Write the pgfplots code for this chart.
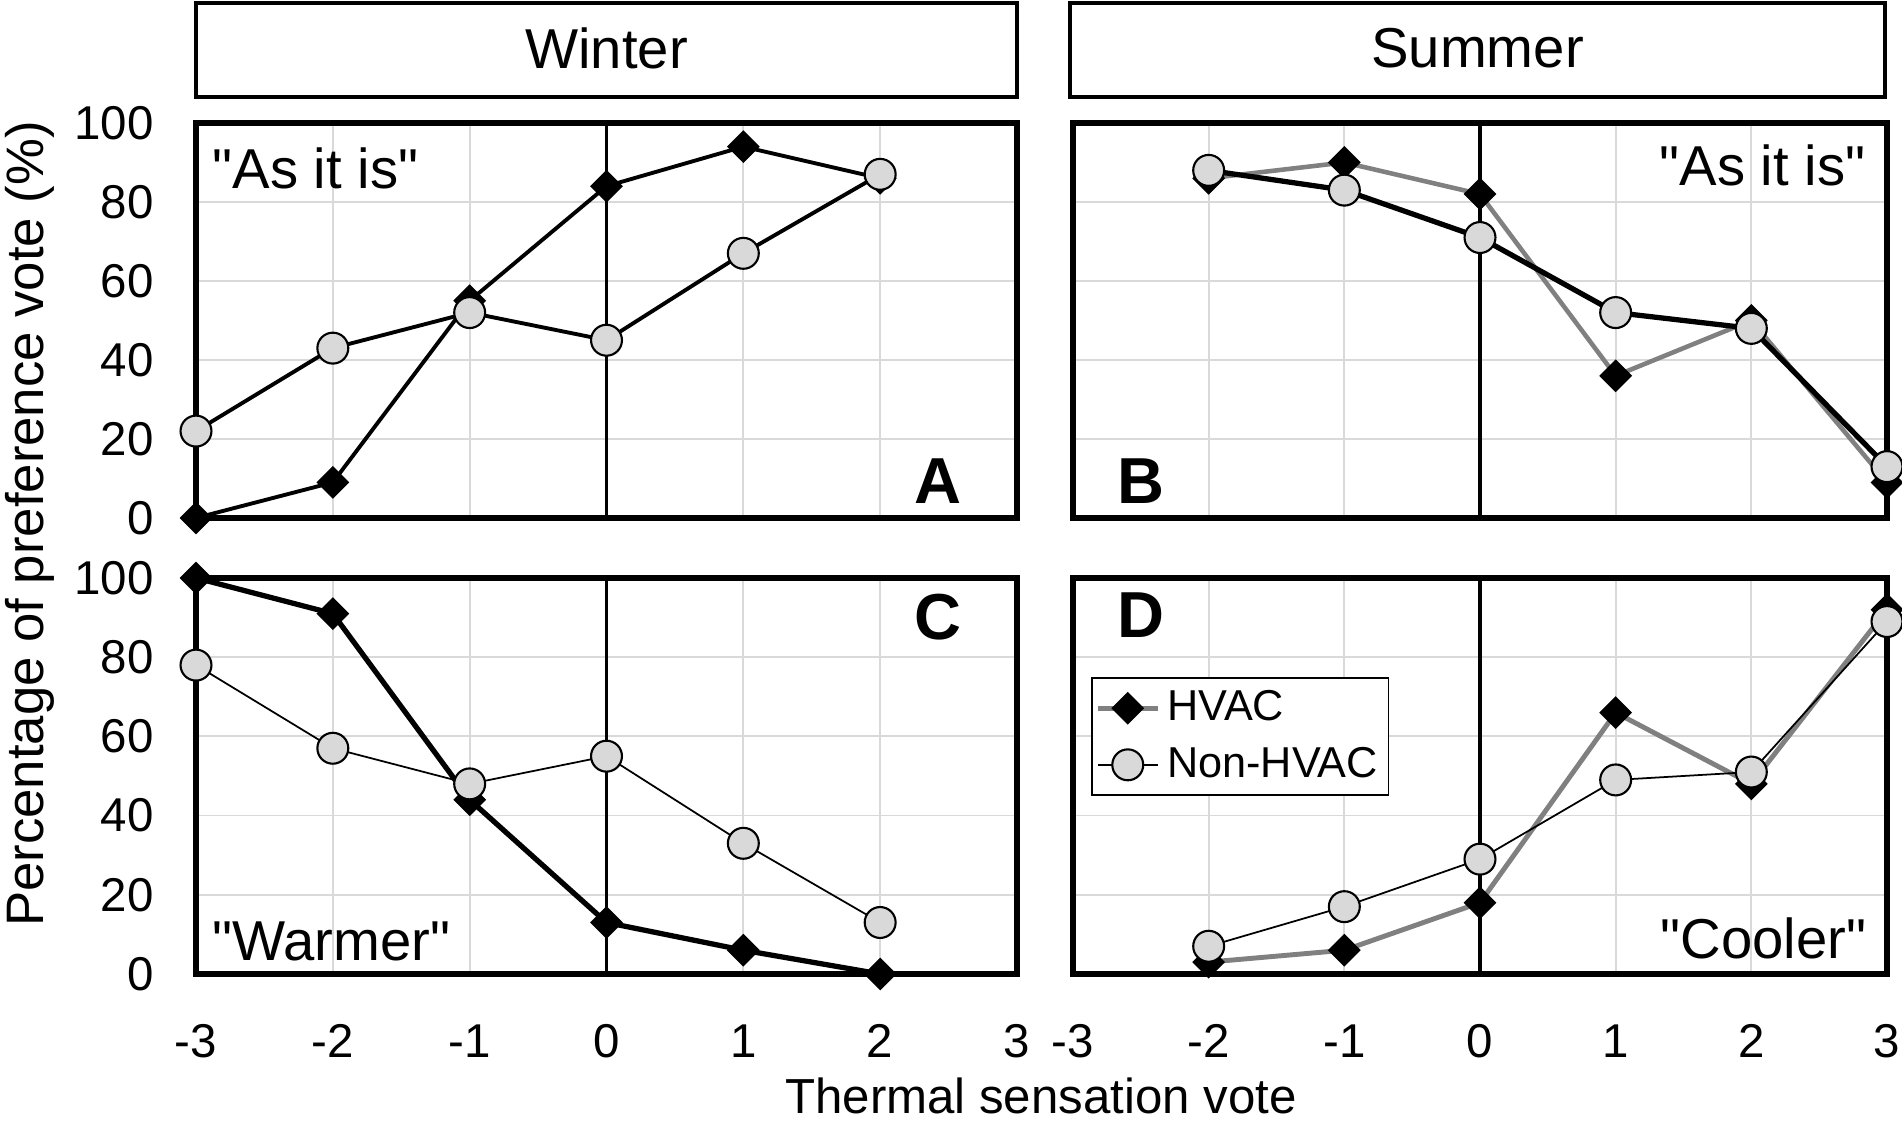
\documentclass[border=0pt]{standalone}
\usepackage{fontspec}
\setmainfont{Liberation Sans}
\newfontfamily\plainsans{Liberation Sans}
\usepackage{pgfplots}
\pgfplotsset{compat=1.18}
\usepackage{pgfplotstable}

\definecolor{circfill}{RGB}{217,217,217}
\definecolor{gridgray}{RGB}{217,217,217}
\definecolor{hvacgray}{RGB}{128,128,128}

\pgfplotstableread{
x y
-3 0
-2 9
-1 55
0 84
1 94
2 86
}\AH
\pgfplotstableread{
x y
-3 22
-2 43
-1 52
0 45
1 67
2 87
}\AN
\pgfplotstableread{
x y
-2 86
-1 90
0 82
1 36
2 50
3 9
}\BH
\pgfplotstableread{
x y
-2 88
-1 83
0 71
1 52
2 48
3 13
}\BN
\pgfplotstableread{
x y
-3 100
-2 91
-1 44
0 13
1 6
2 0
}\CH
\pgfplotstableread{
x y
-3 78
-2 57
-1 48
0 55
1 33
2 13
}\CN
\pgfplotstableread{
x y
-2 3
-1 6
0 18
1 66
2 48
3 92
}\DH
\pgfplotstableread{
x y
-2 7
-1 17
0 29
1 49
2 51
3 89
}\DN

\newcommand{\tickfont}{\fontsize{13.5}{16}\selectfont}
\newcommand{\annfont}{\fontsize{16}{19}\selectfont}
\newcommand{\letfont}{\fontsize{18.5}{22}\selectfont\bfseries}
\newcommand{\q}{{\plainsans\symbol{34}}}

\pgfplotsset{
  panel/.style={
    scale only axis, anchor=south west,
    xmin=-3, xmax=3, ymin=0, ymax=100,
    xtick={-3,-2,-1,0,1,2,3}, ytick={0,20,40,60,80,100},
    xticklabels={}, yticklabels={},
    grid=major, grid style={draw=gridgray, line width=0.5pt},
    axis line style={line width=1.6pt},
    major tick length=0pt,
    clip=false,
    tick label style={font=\tickfont},
    yticklabel shift=0.30cm,
    xticklabel shift=0.38cm,
  },
  hmark/.style={mark=square*, mark size=3.1pt, mark options={rotate=45, solid, fill=black, draw=black, line width=0.4pt}},
  nmark/.style={mark=*, mark size=4.4pt, mark options={solid, fill=circfill, draw=black, line width=0.6pt}},
  zeroline/.style={black, line width=1.1pt, no marks, forget plot},
}

\begin{document}
\begin{tikzpicture}
\useasboundingbox (0,0) rectangle (19.02,11.30);

% headers
\draw[line width=1.3pt] (1.96,10.33) rectangle (10.17,11.27);
\node[font=\annfont] at (6.065,10.82) {Winter};
\draw[line width=1.3pt] (10.70,10.33) rectangle (18.85,11.27);
\node[font=\annfont] at (14.775,10.82) {Summer};

% Panel A
\begin{axis}[panel, at={(1.96cm,6.12cm)}, width=8.21cm, height=3.95cm,
  yticklabels={0,20,40,60,80,100}]
\addplot[zeroline] coordinates {(0,0) (0,100)};
\addplot[black, line width=1.1pt, hmark] table[x=x,y=y] {\AH};
\addplot[black, line width=1.1pt, nmark] table[x=x,y=y] {\AN};
\end{axis}

% Panel B
\begin{axis}[panel, at={(10.73cm,6.12cm)}, width=8.14cm, height=3.95cm]
\addplot[zeroline] coordinates {(0,0) (0,100)};
\addplot[hvacgray, line width=1.3pt, hmark] table[x=x,y=y] {\BH};
\addplot[black, line width=1.5pt, nmark] table[x=x,y=y] {\BN};
\end{axis}

% Panel C
\begin{axis}[panel, at={(1.96cm,1.56cm)}, width=8.21cm, height=3.96cm,
  yticklabels={0,20,40,60,80,100},
  xticklabels={-3,-2,-1,0,1,2,3}]
\addplot[zeroline] coordinates {(0,0) (0,100)};
\addplot[black, line width=1.5pt, hmark] table[x=x,y=y] {\CH};
\addplot[black, line width=0.5pt, nmark] table[x=x,y=y] {\CN};
\end{axis}

% Panel D
\begin{axis}[panel, at={(10.73cm,1.56cm)}, width=8.14cm, height=3.96cm,
  xticklabels={-3,-2,-1,0,1,2,3},
  legend style={at={(0.022,0.749)}, anchor=north west, draw=black, line width=0.5pt,
    font=\fontsize{12.3}{14}\selectfont, cells={anchor=west}, inner xsep=1pt, inner ysep=1.5pt, row sep=2pt},
  legend cell align=left]
\addplot[zeroline] coordinates {(0,0) (0,100)};
\addplot[hvacgray, line width=1.4pt, hmark] table[x=x,y=y] {\DH};
\addlegendentry{HVAC}
\addplot[black, line width=0.5pt, nmark] table[x=x,y=y] {\DN};
\addlegendentry{Non-HVAC}
\end{axis}

% annotations
\node[font=\annfont, anchor=north west, inner sep=0pt] at (2.12,9.83) {\q As it is\q};
\node[font=\annfont, anchor=north east, inner sep=0pt] at (18.66,9.86) {\q As it is\q};
\node[font=\letfont, anchor=south east, inner sep=0pt] at (9.62,6.26) {A};
\node[font=\letfont, anchor=south west, inner sep=0pt] at (11.17,6.26) {B};
\node[font=\letfont, anchor=north east, inner sep=0pt] at (9.62,5.37) {C};
\node[font=\letfont, anchor=north west, inner sep=0pt] at (11.17,5.38) {D};
\node[font=\annfont, anchor=base west, inner sep=0pt] at (2.12,1.69) {\q Warmer\q};
\node[font=\annfont, anchor=base east, inner sep=0pt] at (18.67,1.71) {\q Cooler\q};

% axis labels
\node[font=\fontsize{15}{18}\selectfont, rotate=90] at (0.30,6.06) {Percentage of preference vote (\%)};
\node[font=\fontsize{14}{17}\selectfont, anchor=base] at (10.41,0.16) {Thermal sensation vote};
\end{tikzpicture}
\end{document}
